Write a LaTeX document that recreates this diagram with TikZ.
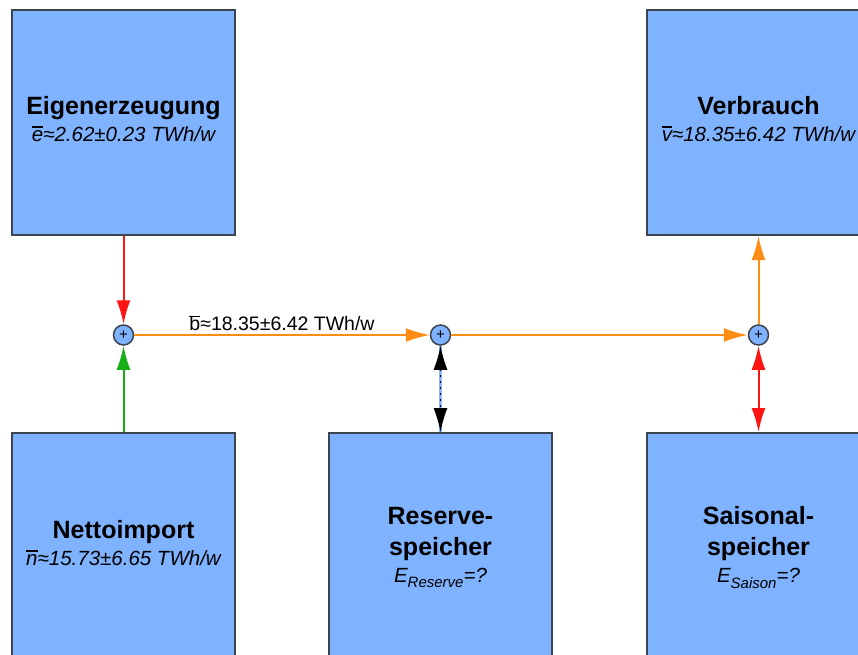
\documentclass[tikz,border=0pt]{standalone}
\usepackage{fontspec}
\setmainfont{Liberation Sans}
\usetikzlibrary{arrows.meta}
\definecolor{boxblue}{RGB}{127,178,255}
\definecolor{boxline}{RGB}{60,68,80}
\definecolor{flowred}{RGB}{255,20,20}
\definecolor{flowgreen}{RGB}{20,176,20}
\definecolor{floworange}{RGB}{255,140,20}
\definecolor{dotblue}{RGB}{140,180,250}
\newcommand\ovl[1]{\leavevmode\setbox0\hbox{#1}\rlap{\raisebox{0.7em}{\rule{\wd0}{0.07em}}}\box0}
\newcommand\subtx[1]{\raisebox{-0.28em}{\fontsize{15}{15}\selectfont #1}}
\newcommand\ttl[1]{{\fontsize{25}{32}\selectfont\bfseries #1}}
\begin{document}
\begin{tikzpicture}[x=1pt,y=-1pt,
  box/.style={rectangle, draw=boxline, fill=boxblue, line width=2pt,
    minimum width=223pt, minimum height=225pt, inner sep=0pt},
  boxtext/.style={align=center, inner sep=0pt, font=\fontsize{20.5}{27}\selectfont},
  junc/.style={circle, draw=boxline, fill=boxblue, line width=1.5pt,
    minimum size=20pt, inner sep=0pt, font=\fontsize{15}{15}\selectfont},
  flow/.style={line width=2pt, -{Latex[length=24pt,width=14pt]}},
  dflow/.style={line width=2pt, {Latex[length=24pt,width=14pt]}-{Latex[length=24pt,width=14pt]}}]
\useasboundingbox (0,0) rectangle (858,654);
\clip (0,0) rectangle (858,654);
\fill[white] (0,0) rectangle (858,654);

\node[box] (eig) at (123.5,122.5) {};
\node[box] (ver) at (758.5,122.5) {};
\node[box] (net) at (123.5,545.5) {};
\node[box] (res) at (440.5,545.5) {};
\node[box] (sai) at (758.5,545.5) {};

\node[boxtext] (eigt) at (123.5,119.5) {\ttl{Eigenerzeugung}\\{\itshape\ovl{e}≈2.62±0.23 TWh/w}};
\node[boxtext] (vert) at (758.5,119.5) {\ttl{Verbrauch}\\{\itshape\ovl{v}≈18.35±6.42 TWh/w}};
\node[boxtext] (nett) at (123.5,543.5) {\ttl{Nettoimport}\\{\itshape\ovl{n}≈15.73±6.65 TWh/w}};
\node[boxtext] (rest) at (440.5,547.5) {\ttl{Reserve-}\\[4pt]\ttl{speicher}\\{\itshape E\subtx{Reserve}=?}};
\node[boxtext] (sait) at (758.5,547.5) {\ttl{Saisonal-}\\[4pt]\ttl{speicher}\\{\itshape E\subtx{Saison}=?}};

\node[junc] (j1) at (123.5,335) {+};
\node[junc] (j2) at (440.5,335) {+};
\node[junc] (j3) at (758.5,335) {+};

\draw[flow, flowred] (eig) -- (j1);
\draw[flow, flowgreen] (net) -- (j1);
\draw[flow, floworange] (j1) -- node[above, text=black, inner sep=3pt, font=\fontsize{19.5}{22}\selectfont] {\ovl{b}≈18.35±6.42 TWh/w} (j2);
\draw[flow, floworange] (j2) -- (j3);
\draw[flow, floworange] (j3) -- (ver);
\draw[dflow, flowred] (j3) -- (sai);
\draw[line width=3pt, dotblue] (j2) -- (res);
\draw[dflow, black, line width=1.4pt, dash pattern=on 1.5pt off 4.5pt] (j2) -- (res);
\end{tikzpicture}
\end{document}
